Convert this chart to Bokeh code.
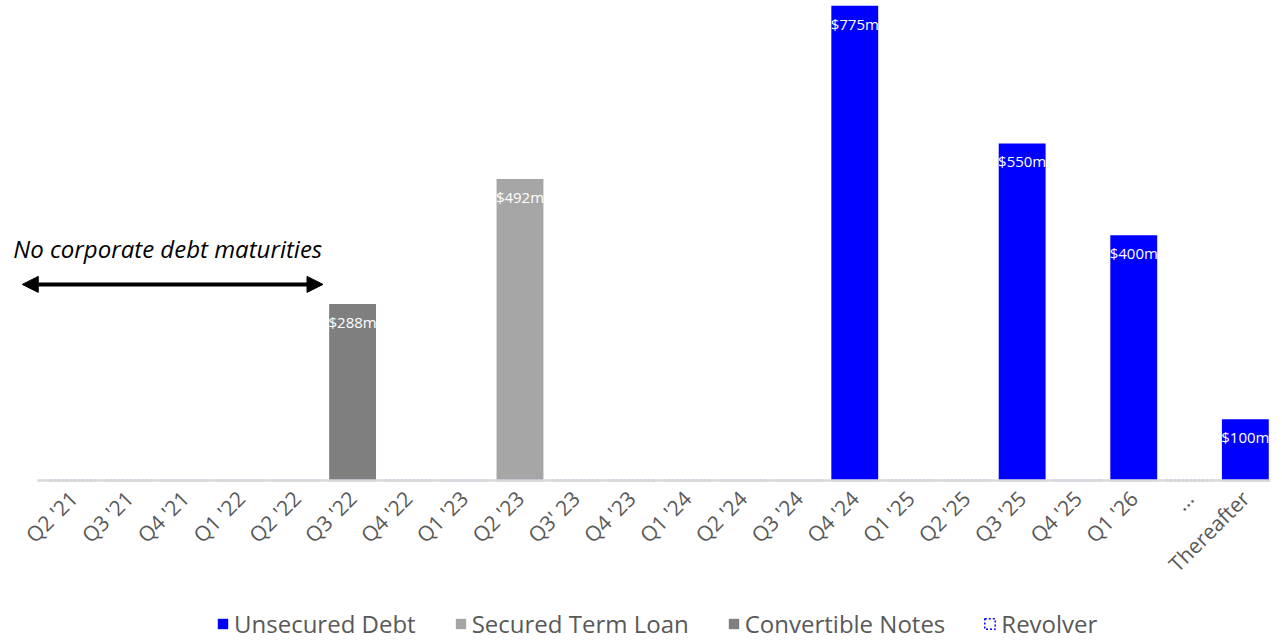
from bokeh.plotting import figure
from bokeh.models import (ColumnDataSource, Legend, LegendItem, Label, Arrow, NormalHead,
                          Range1d, FixedTicker)
from bokeh.core.properties import value
from bokeh.embed import file_html
from bokeh.resources import INLINE
import math

categories = ["Q2 '21", "Q3 '21", "Q4 '21", "Q1 '22", "Q2 '22", "Q3 '22", "Q4 '22",
              "Q1 '23", "Q2 '23", "Q3' 23", "Q4 '23", "Q1 '24", "Q2 '24", "Q3 '24",
              "Q4 '24", "Q1 '25", "Q2 '25", "Q3 '25", "Q4 '25", "Q1 '26", "...", "Thereafter"]
unsecured = [0, 0, 0, 0, 0, 0, 0, 0, 0, 0, 0, 0, 0, 0, 775, 0, 0, 550, 0, 400, 0, 100]
secured = [0, 0, 0, 0, 0, 0, 0, 0, 492, 0, 0, 0, 0, 0, 0, 0, 0, 0, 0, 0, 0, 0]
convertible = [0, 0, 0, 0, 0, 288, 0, 0, 0, 0, 0, 0, 0, 0, 0, 0, 0, 0, 0, 0, 0, 0]
revolver = [0] * 22

series = [
    ("Unsecured Debt", unsecured, "#0000FF"),
    ("Secured Term Loan", secured, "#A6A6A6"),
    ("Convertible Notes", convertible, "#7F7F7F"),
]

FONT = "Open Sans"
n = len(categories)
idx = list(range(n))

p = figure(x_range=Range1d(-1.31, n - 0.37), y_range=Range1d(-261, 775),
           frame_width=1280, frame_height=635,
           output_backend="svg", toolbar_location=None, y_axis_location=None,
           min_border_left=0, min_border_right=0, min_border_top=5, min_border_bottom=0,
           outline_line_color=None, background_fill_color="white")
p.xgrid.visible = False
p.ygrid.visible = False

items = []
for name, vals, color in series:
    xs = [i for i, v in zip(idx, vals) if v > 0]
    ys = [v for v in vals if v > 0]
    src = ColumnDataSource(dict(x=xs, top=ys, lab=["$%dm" % v for v in ys]))
    r = p.vbar(x="x", top="top", bottom=0, width=0.84, source=src, fill_color=color, line_color=None)
    p.text(x="x", y="top", text="lab", source=src, text_color="white",
           text_font=value(FONT), text_font_size="15px", text_align="center",
           text_baseline="middle", y_offset=18)
    items.append(LegendItem(label=name, renderers=[r]))

# Revolver: all amounts are zero (bars have no height)
rsrc = ColumnDataSource(dict(x=idx, top=revolver))
rr = p.vbar(x="x", top="top", bottom=0, width=0.84, source=rsrc,
            fill_color="white", line_color="#0000FF", line_dash="2 2", line_width=1.5)
items.append(LegendItem(label="Revolver", renderers=[rr]))

# baseline (category axis line)
p.segment(x0=[-0.65], y0=[0], x1=[n - 0.55], y1=[0], line_color="#D9D9D9", line_width=2.5)

ax = p.xaxis[0]
ax.fixed_location = 0
ax.ticker = FixedTicker(ticks=idx)
ax.major_label_overrides = {i: c for i, c in zip(idx, categories)}
ax.axis_line_color = None
ax.major_tick_line_color = None
ax.minor_tick_line_color = None
ax.major_tick_out = 0
ax.major_label_orientation = math.pi / 4
ax.major_label_text_font = FONT
ax.major_label_text_font_size = "21px"
ax.major_label_text_color = "#595959"
ax.major_label_standoff = 14

arrow = Arrow(x_start=-0.92, y_start=320, x_end=4.47, y_end=320,
              line_color="black", line_width=4,
              start=NormalHead(size=16, fill_color="black", line_color="black"),
              end=NormalHead(size=16, fill_color="black", line_color="black"))
p.add_layout(arrow)

lbl = Label(x=-1.08, y=378, text="No corporate debt maturities", text_font=FONT,
            text_font_size="24px", text_font_style="italic", text_color="black",
            text_align="left", text_baseline="alphabetic")
p.add_layout(lbl)

legend = Legend(items=items, orientation="horizontal", location=(216, 0),
                label_text_font=FONT, label_text_font_size="24px", label_text_color="#595959",
                glyph_width=13, glyph_height=13, label_standoff=5, spacing=38,
                border_line_color=None, background_fill_alpha=0, padding=0, margin=0)
p.add_layout(legend)

open("out.html", "w").write(file_html(p, INLINE))
